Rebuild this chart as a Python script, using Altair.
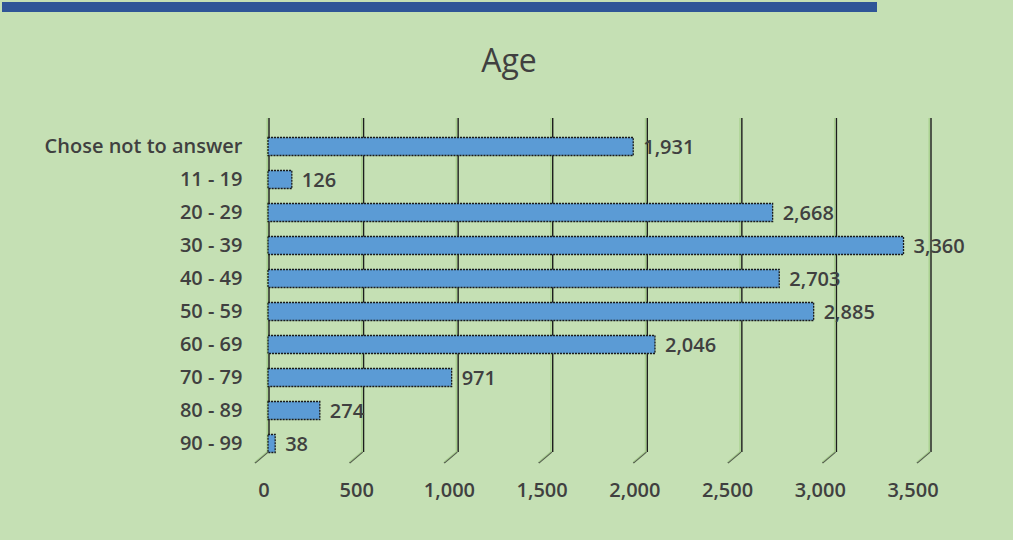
import altair as alt
import pandas as pd

categories = ["Chose not to answer", "11 - 19", "20 - 29", "30 - 39", "40 - 49",
              "50 - 59", "60 - 69", "70 - 79", "80 - 89", "90 - 99"]
counts = [1931, 126, 2668, 3360, 2703, 2885, 2046, 971, 274, 38]
ticks = [0, 500, 1000, 1500, 2000, 2500, 3000, 3500]
tick_labels = ["0", "500", "1,000", "1,500", "2,000", "2,500", "3,000", "3,500"]
title_text = "Age"

df = pd.DataFrame({"cat": categories, "n": counts})
tdf = pd.DataFrame({"v": ticks, "lab": tick_labels})

FONT = "Open Sans"
TXT = "#404040"
BLUE = "#5b9bd5"
FS = 20

xs = alt.Scale(domain=[0, 3500], range=[0, 662], nice=False)

base_ticks = alt.Chart(tdf)

grid_dark = base_ticks.mark_rule(color="#1c1c1c", strokeWidth=1.4, xOffset=1).encode(
    x=alt.X("v:Q", scale=xs, axis=None), y=alt.value(-12), y2=alt.value(322))
grid_light = base_ticks.mark_rule(color="#a9d18e", strokeWidth=1.4, xOffset=-0.8).encode(
    x=alt.X("v:Q", scale=xs, axis=None), y=alt.value(-12), y2=alt.value(322))
feet = base_ticks.mark_point(shape="M0,0L-1.18,1", size=484, filled=False,
                             stroke="#1c1c1c", strokeWidth=1.6).encode(
    x=alt.X("v:Q", scale=xs, axis=None), y=alt.value(322))
feet_light = base_ticks.mark_point(shape="M0,0L-1.18,1", size=484, filled=False,
                                   stroke="#a9d18e", strokeWidth=1.2, yOffset=-1).encode(
    x=alt.X("v:Q", scale=xs, axis=None), y=alt.value(322))

bars = alt.Chart(df).mark_bar(size=18, fill=BLUE, stroke="#1a1a1a", strokeWidth=1.3,
                              strokeDash=[2, 1]).encode(
    x=alt.X("n:Q", scale=xs, axis=None),
    y=alt.Y("cat:N", sort=categories, title=None,
            axis=alt.Axis(labelFont=FONT, labelFontSize=FS, labelFontWeight=600,
                          labelColor=TXT, domain=False, ticks=False, labelPadding=26,
                          labelLimit=400)),
)

vals = alt.Chart(df).mark_text(align="left", baseline="middle", dx=10, dy=1,
                               font=FONT, fontSize=FS, fontWeight=600, color=TXT).encode(
    x=alt.X("n:Q", scale=xs, axis=None),
    y=alt.Y("cat:N", sort=categories),
    text=alt.Text("n:Q", format=","),
)

xlabels = base_ticks.mark_text(align="center", baseline="middle", font=FONT, fontSize=FS,
                               fontWeight=600, color=TXT).encode(
    x=alt.X("v:Q", scale=alt.Scale(domain=[0, 3500], range=[-4, 645], nice=False), axis=None),
    y=alt.value(361),
    text="lab:N",
)

title = alt.Chart(pd.DataFrame({"t": [title_text]})).mark_text(
    align="center", baseline="middle", font=FONT, fontSize=32, color=TXT).encode(
    x=alt.value(241), y=alt.value(-68), text="t:N")

topline = alt.Chart(pd.DataFrame({"a": [0]})).mark_rule(color="#2f5597", strokeWidth=10).encode(
    x=alt.value(-266), x2=alt.value(609), y=alt.value(-123))

main = alt.layer(grid_dark, grid_light, feet, feet_light, bars, vals).resolve_scale(x="shared")

chart = alt.layer(main, xlabels, title, topline).resolve_scale(x="independent").properties(
    width=662, height=330,
    padding={"left": 268, "top": 130, "right": 83, "bottom": 80},
    autosize=alt.AutoSizeParams(type="none"),
).configure(background="#c5e0b4").configure_view(stroke=None)

chart.save("out.html", embed_options={"renderer": "svg", "actions": False})
